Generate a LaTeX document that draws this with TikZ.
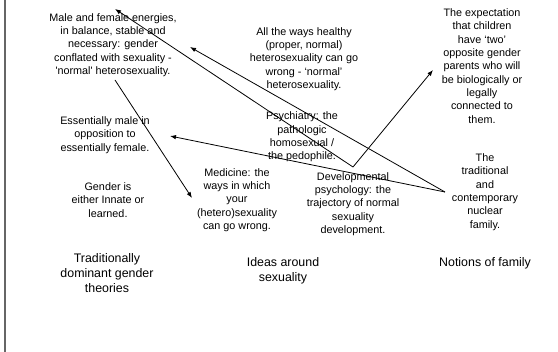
\documentclass[tikz,border=0pt]{standalone}
\usepackage{fontspec}
\setmainfont{Liberation Sans}
\usetikzlibrary{arrows.meta}
\begin{document}
\begin{tikzpicture}[x=1pt,y=-1pt,
  txt/.style={align=center,inner sep=0pt,font=\fontsize{10.8}{13.3}\selectfont},
  captxt/.style={align=center,inner sep=0pt,font=\fontsize{12.4}{15}\selectfont},
  conn/.style={draw=black,line width=0.8pt,-{Latex[length=6pt,width=4.5pt]}}]
\useasboundingbox (0,0) rectangle (558,352);
\draw[line width=1.6pt,draw=black!60] (5,0) -- (5,352);
% left column
\node[txt] (mf) at (113,45) {Male and female energies,\\in balance, stable and\\necessary: gender\\conflated with sexuality -\\\textquotesingle normal\textquotesingle\ heterosexuality.};
\node[txt] (em) at (105,135) {Essentially male in\\opposition to\\essentially female.};
\node[txt] (gi) at (108,200) {Gender is\\either Innate or\\learned.};
\node[captxt] (c1) at (107,273) {Traditionally\\dominant gender\\theories};
% middle column
\node[txt] (aw) at (304,59) {All the ways healthy\\(proper, normal)\\heterosexuality can go\\wrong - `normal'\\heterosexuality.};
\node[txt] (ps) at (302,137) {Psychiatry: the\\pathologic\\homosexual /\\the pedophile.};
\node[txt] (me) at (237,200) {Medicine: the\\ways in which\\your\\(hetero)sexuality\\can go wrong.};
\node[txt] (dp) at (353,204) {Developmental\\psychology: the\\trajectory of normal\\sexuality\\development.};
\node[captxt] (c2) at (283,271) {Ideas around\\sexuality};
% right column
\node[txt] (ex) at (482,66) {The expectation\\that children\\have `two'\\opposite gender\\parents who will\\be biologically or\\legally\\connected to\\them.};
\node[txt] (fa) at (485,192) {The\\traditional\\and\\contemporary\\nuclear\\family.};
\node[captxt] (c3) at (485,263) {Notions of family};
% connector end points
\coordinate (F) at (445,192);
\coordinate (D) at (353,167);
\coordinate (aTop) at (115,9);
\coordinate (aMF) at (190,47);
\coordinate (aEM) at (170,136);
\coordinate (aEx) at (433,70);
\coordinate (mfS) at (115,80);
\coordinate (aMe) at (192,198);
% connectors
\draw[conn] (F) -- (aMF);
\draw[conn] (F) -- (aEM);
\draw[conn] (D) -- (aTop);
\draw[conn] (D) -- (aEx);
\draw[conn] (mfS) -- (aMe);
\end{tikzpicture}
\end{document}
